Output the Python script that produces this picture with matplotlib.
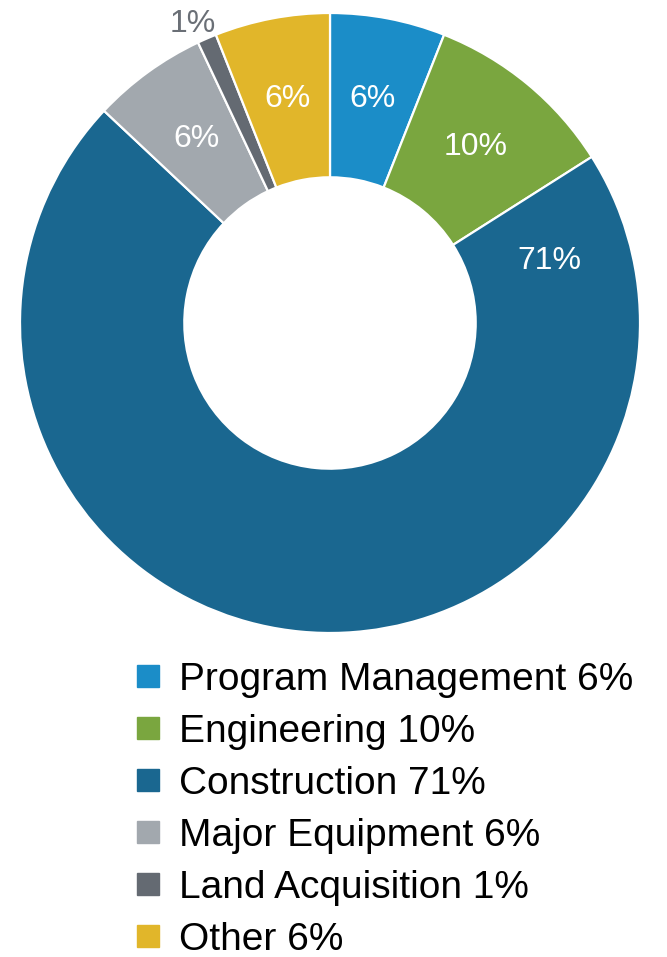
import numpy as np
import matplotlib.pyplot as plt
from matplotlib.lines import Line2D

plt.rcParams['font.family'] = ['Liberation Sans', 'DejaVu Sans']

categories = ['Program Management', 'Engineering', 'Construction',
              'Major Equipment', 'Land Acquisition', 'Other']
shares = [6, 10, 71, 6, 1, 6]
colors = ['#1b8dc8', '#7aa63f', '#1a6790', '#a2a8ae', '#646a72', '#e1b62a']
pct_labels = ['6%', '10%', '71%', '6%', '1%', '6%']

W, H = 667, 957
fig = plt.figure(figsize=(W / 100, H / 100), dpi=100)
# axes so that a unit-radius pie sits at centre (330, 323) px, radius 310 px
ax = fig.add_axes([20 / W, 1 - 633 / H, 620 / W, 620 / H])

wedges, _ = ax.pie(shares, colors=colors, startangle=90, counterclock=False,
                   radius=1.0, wedgeprops=dict(width=0.53, edgecolor='white', linewidth=1.6))
ax.set_xlim(-1, 1)
ax.set_ylim(-1, 1)
ax.set_aspect('equal')
ax.axis('off')

mid_r = 1 - 0.53 / 2
for w, lab, name in zip(wedges, pct_labels, categories):
    if name == 'Construction':
        ang = w.theta2 - 16.6
        r = mid_r
        col = 'white'
    elif name == 'Land Acquisition':
        ang = (w.theta1 + w.theta2) / 2 + 1.2
        r = 1.06
        col = '#6a6f76'
    else:
        ang = (w.theta1 + w.theta2) / 2
        r = mid_r
        col = 'white'
    x = r * np.cos(np.radians(ang))
    y = r * np.sin(np.radians(ang))
    ax.text(x, y, lab, ha='center', va='center', fontsize=23, color=col)

handles = [Line2D([], [], marker='s', linestyle='none', markersize=15.5,
                  markerfacecolor=c, markeredgecolor=c) for c in colors]
leg_labels = [f'{n} {p}' for n, p in zip(categories, pct_labels)]
fig.legend(handles, leg_labels, loc='upper left', bbox_to_anchor=(130 / W, 1 - 662 / H),
           frameon=False, fontsize=28, handlelength=0.9, handletextpad=0.37,
           labelspacing=0.41, borderpad=0, borderaxespad=0)

fig.savefig('out.png', dpi=100)
